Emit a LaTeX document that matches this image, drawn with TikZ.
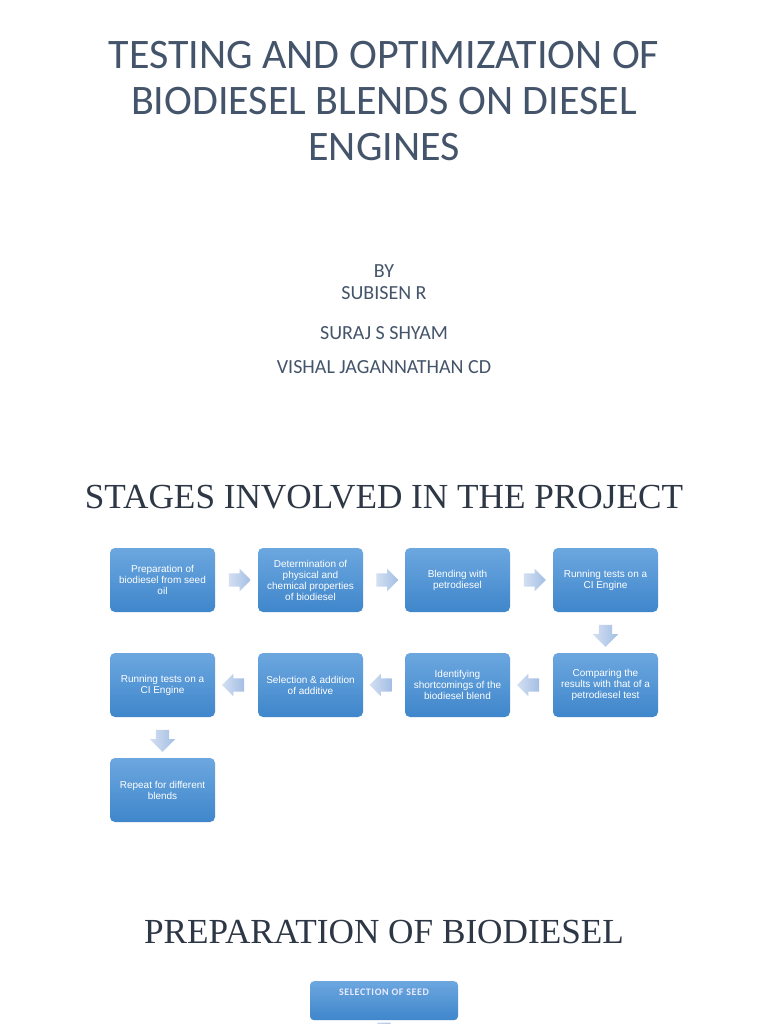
\documentclass[tikz,border=0pt]{standalone}
\usepackage{fontspec}
\setmainfont{Liberation Sans}
\newfontfamily\calib{Carlito}
\newfontfamily\calibsp[LetterSpace=6]{Carlito}
\newfontfamily\arialf{Liberation Sans}
\newfontfamily\tnr{Liberation Serif}
\usetikzlibrary{shapes.arrows,calc}
\definecolor{titlecol}{HTML}{44546A}
\definecolor{headcol}{HTML}{2E3746}
\definecolor{boxtop}{HTML}{6CA7DF}
\definecolor{boxbot}{HTML}{3F86CB}
\definecolor{arrlight}{HTML}{D3DFF1}
\definecolor{arrdark}{HTML}{A3BEE4}
\tikzset{
  stagebox/.style={rectangle, rounded corners=5pt, minimum width=105pt, minimum height=64pt,
    top color=boxtop, bottom color=boxbot, draw=none, text=white, align=center,
    font=\arialf\fontsize{10}{11}\selectfont, inner sep=2pt},
  barrow/.style={single arrow, draw=none, minimum height=22pt, minimum width=22pt,
    single arrow head extend=4.5pt, inner sep=0pt, text width=0pt, text height=13pt, text depth=0pt},
  rarrow/.style={barrow, left color=arrlight, right color=arrdark},
  larrow/.style={barrow, shape border rotate=180, left color=arrlight, right color=arrdark},
  darrow/.style={barrow, minimum width=25pt, single arrow head extend=6pt, rotate=-90, left color=arrlight, right color=arrdark},
  titletext/.style={text=titlecol, font=\calib\fontsize{42}{46}\selectfont, align=center, inner sep=0pt},
  authortext/.style={text=titlecol, font=\calib\fontsize{20}{22}\selectfont, inner sep=0pt, anchor=base},
  headtext/.style={text=headcol, font=\tnr\fontsize{35.2}{40}\selectfont, inner sep=0pt, anchor=base}
}
\begin{document}
\begin{tikzpicture}[x=1pt,y=-1pt]
\path[use as bounding box, clip] (0,0) rectangle (768,1024);
\fill[white] (0,0) rectangle (768,1024);

\node[titletext, anchor=north] (title) at (384,41)
  {TESTING AND OPTIMIZATION OF\\BIODIESEL BLENDS ON DIESEL\\ENGINES};

\node[authortext] (by) at (384,277) {BY};
\node[authortext] (a1) at (384,299) {SUBISEN R};
\node[authortext] (a2) at (384,339) {SURAJ S SHYAM};
\node[authortext] (a3) at (384,373) {VISHAL JAGANNATHAN CD};

\node[headtext] (h1) at (384,508) {STAGES INVOLVED IN THE PROJECT};

\node[stagebox] (b1) at (162.5,580) {Preparation of\\biodiesel from seed\\oil};
\node[stagebox] (b2) at (310.5,580) {Determination of\\physical and\\chemical properties\\of biodiesel};
\node[stagebox] (b3) at (457.5,580) {Blending with\\petrodiesel};
\node[stagebox] (b4) at (605.5,580) {Running tests on a\\CI Engine};
\node[stagebox] (b5) at (605.5,685) {Comparing the\\results with that of a\\petrodiesel test};
\node[stagebox] (b6) at (457.5,685) {Identifying\\shortcomings of the\\biodiesel blend};
\node[stagebox] (b7) at (310.5,685) {Selection \& addition\\of additive};
\node[stagebox] (b8) at (162.5,685) {Running tests on a\\CI Engine};
\node[stagebox] (b9) at (162.5,790) {Repeat for different\\blends};

\node[rarrow] (r1) at ($(b1.east)!0.5!(b2.west)$) {};
\node[rarrow] (r2) at ($(b2.east)!0.5!(b3.west)$) {};
\node[rarrow] (r3) at ($(b3.east)!0.5!(b4.west)$) {};
\node[darrow] (d1) at ($(b4.south)!0.5!(b5.north)$) {};
\node[larrow] (l1) at ($(b5.west)!0.5!(b6.east)$) {};
\node[larrow] (l2) at ($(b6.west)!0.5!(b7.east)$) {};
\node[larrow] (l3) at ($(b7.west)!0.5!(b8.east)$) {};
\node[darrow] (d2) at ($(b8.south)!0.5!(b9.north)$) {};

\node[headtext] (h2) at (384,943) {PREPARATION OF BIODIESEL};

\node[rectangle, rounded corners=4pt, minimum width=148pt, minimum height=39pt,
  top color=boxtop, bottom color=boxbot, anchor=north, inner sep=0pt] (seed) at (384,981) {};
\node[text=white!92!blue, font=\calibsp\bfseries\fontsize{10}{11}\selectfont, anchor=base, inner sep=0pt] (seedtxt) at (384,995) {SELECTION OF SEED};
\node[darrow, anchor=west] (d3) at ($(seed.south)+(0,2)$) {};
\end{tikzpicture}
\end{document}
